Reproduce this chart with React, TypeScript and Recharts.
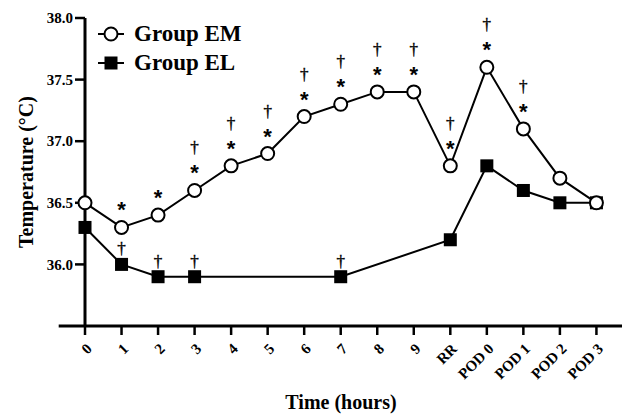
import { LineChart, Line, XAxis, YAxis, ReferenceLine, LabelList } from 'recharts';

const categories = ['0', '1', '2', '3', '4', '5', '6', '7', '8', '9', 'RR', 'POD 0', 'POD 1', 'POD 2', 'POD 3'];
const groupEM = [36.5, 36.3, 36.4, 36.6, 36.8, 36.9, 37.2, 37.3, 37.4, 37.4, 36.8, 37.6, 37.1, 36.7, 36.5];
const groupEL = [36.3, 36.0, 35.9, 35.9, null, null, null, 35.9, null, null, 36.2, 36.8, 36.6, 36.5, 36.5];
// significance marks drawn above each point
const emMarks = ['', '*', '*', '†*', '†*', '†*', '†*', '†*', '†*', '†*', '†*', '†*', '†*', '', ''];
const elMarks = ['', '†', '†', '†', '', '', '', '†', '', '', '', '', '', '', ''];
const yTicks = [36.0, 36.5, 37.0, 37.5, 38.0];

const data = categories.map((label, i) => ({
  idx: i,
  label,
  em: groupEM[i],
  el: groupEL[i],
  emMark: emMarks[i],
  elMark: elMarks[i],
}));

const FONT = '"Liberation Serif", "Times New Roman", serif';
const INK = '#000';

function XTick({ x, y, payload }: any) {
  return (
    <g transform={`translate(${x + 4},${y + 9})`}>
      <text
        x={0}
        y={0}
        dy="0.35em"
        textAnchor="end"
        transform="rotate(-45)"
        fontFamily={FONT}
        fontWeight="bold"
        fontSize={15}
        fill={INK}
      >
        {categories[payload.value]}
      </text>
    </g>
  );
}

function YTick({ x, y, payload }: any) {
  return (
    <text x={x} y={y} dy="0.35em" textAnchor="end" fontFamily={FONT} fontWeight="bold" fontSize={15} fill={INK}>
      {payload.value.toFixed(1)}
    </text>
  );
}

function CircleDot({ cx, cy, index }: any) {
  if (cx == null || cy == null) return null;
  return <circle key={index} cx={cx} cy={cy} r={6.5} fill="#fff" stroke={INK} strokeWidth={2} />;
}

function SquareDot({ cx, cy, index, value }: any) {
  if (cx == null || cy == null || value == null) return null;
  return <rect key={index} x={cx - 6.5} y={cy - 6.5} width={13} height={13} fill={INK} />;
}

function MarkLabel({ x, y, value, star, dagger }: any) {
  if (!value || x == null || y == null) return null;
  return (
    <g opacity={0.99}>
      {value.includes('*') && (
        <text x={x} y={y - star} textAnchor="middle" fontFamily='"Liberation Sans", Arial, sans-serif' fontWeight="bold" fontSize={22} fill={INK}>
          *
        </text>
      )}
      {value.includes('†') && (
        <text
          x={x}
          y={y - dagger}
          textAnchor="middle"
          fontFamily={FONT}
          fontSize={17}
          fill={INK}
          stroke={INK}
          strokeWidth={0.4}
        >
          †
        </text>
      )}
    </g>
  );
}

function LegendBox() {
  const rows = [
    { name: 'Group EM', kind: 'circle' },
    { name: 'Group EL', kind: 'square' },
  ];
  return (
    <div style={{ position: 'absolute', left: 96, top: 19 }}>
      {rows.map((r) => (
        <div key={r.name} style={{ display: 'flex', alignItems: 'center', height: 29 }}>
          <svg width={30} height={20}>
            <line x1={2} y1={10} x2={28} y2={10} stroke={INK} strokeWidth={2} />
            {r.kind === 'circle' ? (
              <circle cx={15} cy={10} r={6.5} fill="#fff" stroke={INK} strokeWidth={2} />
            ) : (
              <rect x={8.5} y={3.5} width={13} height={13} fill={INK} />
            )}
          </svg>
          <span style={{ marginLeft: 8, fontFamily: FONT, fontWeight: 'bold', fontSize: 23, color: INK }}>{r.name}</span>
        </div>
      ))}
    </div>
  );
}

export default function App() {
  return (
    <div style={{ position: 'absolute', left: 0, top: 0, width: 625, height: 415, background: '#fff' }}>
      <LineChart width={625} height={415} data={data} margin={{ top: 18, right: 3, left: 0, bottom: 0 }}>
        <XAxis
          dataKey="idx"
          type="number"
          domain={[0, 14.7]}
          ticks={categories.map((_, i) => i)}
          axisLine={false}
          tickLine={{ stroke: INK, strokeWidth: 2.5 }}
          tickSize={9}
          tick={<XTick />}
          height={89}
          label={() => (
            <text x={341} y={402} dy="0.35em" textAnchor="middle" fontFamily={FONT} fontWeight="bold" fontSize={20} fill={INK}>
              Time (hours)
            </text>
          )}
        />
        <YAxis
          domain={[35.5, 38.0]}
          ticks={yTicks}
          width={85}
          axisLine={{ stroke: INK, strokeWidth: 3 }}
          tickLine={{ stroke: INK, strokeWidth: 2.5 }}
          tickSize={10}
          tickMargin={2}
          tick={<YTick />}
          label={() => (
            <text
              x={26}
              y={172}
              dy="0.35em"
              textAnchor="middle"
              transform="rotate(-90, 26, 172)"
              fontFamily={FONT}
              fontWeight="bold"
              fontSize={20}
              fill={INK}
            >
              Temperature (°C)
            </text>
          )}
        />
        <ReferenceLine
          segment={[
            { x: -0.72, y: 35.5 },
            { x: 14.7, y: 35.5 },
          ]}
          ifOverflow="visible"
          stroke={INK}
          strokeWidth={3}
        />
        <Line
          dataKey="el"
          stroke={INK}
          strokeWidth={2}
          connectNulls
          dot={<SquareDot />}
          activeDot={false}
          isAnimationActive={false}
        >
          <LabelList dataKey="elMark" content={(p: any) => <MarkLabel {...p} star={0} dagger={10} />} />
        </Line>
        <Line
          dataKey="em"
          stroke={INK}
          strokeWidth={2}
          dot={<CircleDot />}
          activeDot={false}
          isAnimationActive={false}
        >
          <LabelList dataKey="emMark" content={(p: any) => <MarkLabel {...p} star={10} dagger={37} />} />
        </Line>
      </LineChart>
      <LegendBox />
    </div>
  );
}
